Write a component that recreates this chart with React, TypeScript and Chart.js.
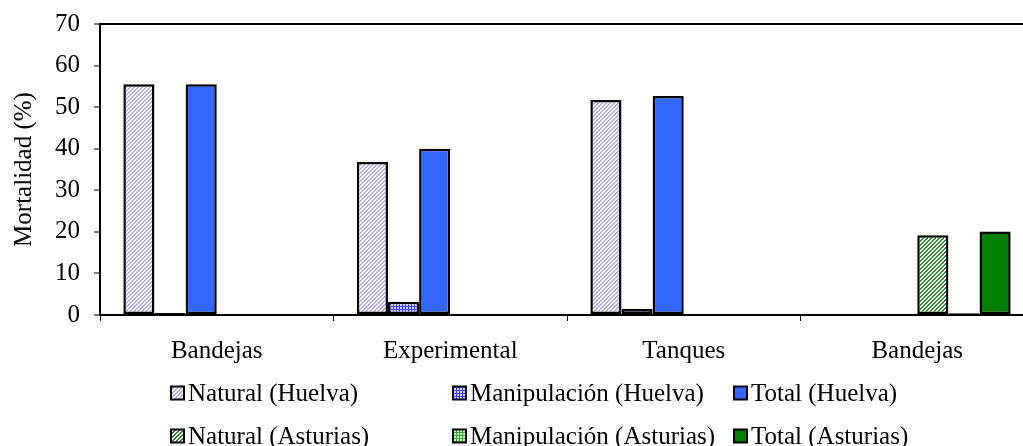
import React, { useEffect, useRef } from "react";
import { Chart, registerables } from "chart.js";

Chart.register(...registerables);

const categories = ["Bandejas", "Experimental", "Tanques", "Bandejas"];
const naturalHuelva = [55.5, 36.8, 51.7, null];
const manipHuelva = [0.5, 3.2, 1.5, null];
const totalHuelva = [55.5, 40.0, 52.7, null];
const naturalAsturias = [null, null, null, 19.2];
const manipAsturias = [null, null, null, 0.4];
const totalAsturias = [null, null, null, 20.1];
const seriesLabels = [
  "Natural (Huelva)",
  "Manipulación (Huelva)",
  "Total (Huelva)",
  "Natural (Asturias)",
  "Manipulación (Asturias)",
  "Total (Asturias)",
];
const yTicks = { min: 0, max: 70, step: 10 };

const FONT = "'Liberation Serif', 'Times New Roman', serif";
const FS = 25;

function makePattern(size: number, draw: (g: CanvasRenderingContext2D) => void) {
  const c = document.createElement("canvas");
  c.width = size;
  c.height = size;
  const g = c.getContext("2d") as CanvasRenderingContext2D;
  draw(g);
  return g.createPattern(c, "repeat") as CanvasPattern;
}

function hatch(fg: string, bg: string) {
  return makePattern(4, (g) => {
    g.fillStyle = bg;
    g.fillRect(0, 0, 4, 4);
    g.fillStyle = fg;
    for (let x = 0; x < 4; x++) {
      for (let y = 0; y < 4; y++) {
        const d = (x + y) % 4;
        if (d === 0 || d === 1) g.fillRect(x, y, 1, 1);
      }
    }
  });
}

function grid(bg: string, fg: string) {
  return makePattern(3, (g) => {
    g.fillStyle = bg;
    g.fillRect(0, 0, 3, 3);
    g.fillStyle = fg;
    g.fillRect(0, 0, 3, 1);
    g.fillRect(0, 0, 1, 3);
  });
}

export default function App() {
  const ref = useRef<HTMLCanvasElement | null>(null);

  useEffect(() => {
    const canvas = ref.current;
    if (!canvas) return;
    const fills = [
      hatch("#b0b0ff", "#ffffff"),
      grid("#d0d0ff", "#4444ff"),
      "#3366ff",
      hatch("#2f8f2f", "#ffffff"),
      grid("#d0ffd0", "#33aa33"),
      "#008000",
    ];
    const values = [naturalHuelva, manipHuelva, totalHuelva, naturalAsturias, manipAsturias, totalAsturias];

    const legendPlugin = {
      id: "customLegend",
      afterDraw(chart: any) {
        const ctx = chart.ctx as CanvasRenderingContext2D;
        const cols = [171, 453, 734];
        const rows = [393, 436];
        ctx.save();
        ctx.font = `${FS}px ${FONT}`;
        ctx.textBaseline = "middle";
        ctx.textAlign = "left";
        seriesLabels.forEach((label, i) => {
          const x = cols[i % 3];
          const y = rows[Math.floor(i / 3)];
          ctx.fillStyle = fills[i] as any;
          ctx.fillRect(x, y - 6.5, 13, 13);
          ctx.lineWidth = 2;
          ctx.strokeStyle = "#000";
          ctx.strokeRect(x, y - 6.5, 13, 13);
          ctx.fillStyle = "#000";
          ctx.fillText(label, x + 17, y + 1);
        });
        ctx.restore();
      },
    };

    const chart = new Chart(canvas, {
      type: "bar",
      data: {
        labels: categories,
        datasets: seriesLabels.map((label, i) => ({
          label,
          data: values[i] as any,
          backgroundColor: fills[i] as any,
          borderColor: "#000",
          borderWidth: 2.5,
          borderSkipped: false,
          categoryPercentage: 0.8,
          barPercentage: 1.0,
        })),
      },
      options: {
        responsive: false,
        animation: false,
        events: [],
        layout: { padding: { left: 0, right: 6, top: 24, bottom: 65 } },
        plugins: {
          legend: { display: false },
          tooltip: { enabled: false },
        },
        scales: {
          x: {
            offset: true,
            grid: {
              display: true,
              offset: true,
              drawOnChartArea: false,
              drawTicks: true,
              tickLength: 6,
              tickColor: "#000",
              tickWidth: 1,
              color: "rgba(0,0,0,0)",
            },
            border: { display: true, color: "#000", width: 2 },
            ticks: {
              color: "#000",
              font: { family: FONT, size: FS },
              padding: 15,
              maxRotation: 0,
              autoSkip: false,
            },
          },
          y: {
            min: yTicks.min,
            max: yTicks.max,
            afterFit(scale: any) {
              scale.width = 100;
              scale.paddingTop = 0;
              scale.paddingBottom = 0;
            },
            grid: {
              drawTicks: true,
              tickLength: 6,
              tickColor: "#000",
              tickWidth: 1,
              lineWidth: 2,
              color: (c: any) => (c.tick && c.tick.value === yTicks.max ? "#000" : "rgba(0,0,0,0)"),
            },
            border: { display: true, color: "#000", width: 2 },
            ticks: {
              stepSize: yTicks.step,
              color: "#000",
              font: { family: FONT, size: FS },
              padding: 14,
            },
            title: {
              display: true,
              text: "Mortalidad (%)",
              color: "#000",
              font: { family: FONT, size: FS },
              padding: { top: 9, bottom: 0 },
            },
          },
        },
      },
      plugins: [legendPlugin],
    });
    return () => chart.destroy();
  }, []);

  return (
    <div style={{ position: "fixed", left: 0, top: 0, width: 1040, height: 446, background: "#fff" }}>
      <canvas ref={ref} width={1040} height={446} style={{ display: "block" }} />
    </div>
  );
}
